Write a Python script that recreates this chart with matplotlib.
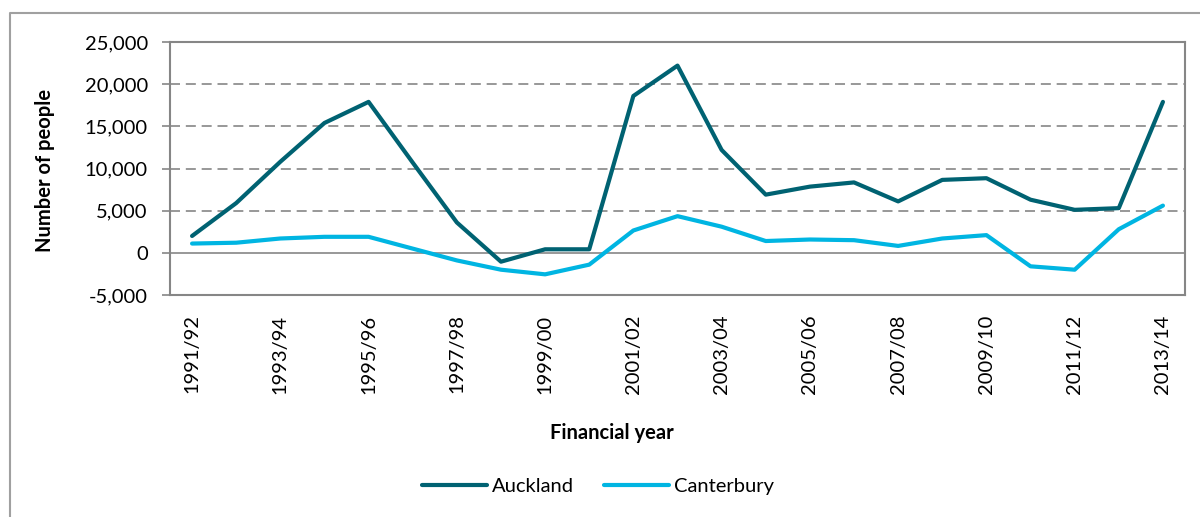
import matplotlib
matplotlib.use("Agg")
import matplotlib.pyplot as plt
from matplotlib.lines import Line2D
from matplotlib.ticker import FuncFormatter, MultipleLocator

years = ["1991/92", "1992/93", "1993/94", "1994/95", "1995/96", "1996/97",
         "1997/98", "1998/99", "1999/00", "2000/01", "2001/02", "2002/03",
         "2003/04", "2004/05", "2005/06", "2006/07", "2007/08", "2008/09",
         "2009/10", "2010/11", "2011/12", "2012/13", "2013/14"]
auckland = [2000, 5900, 10800, 15400, 17900, 10700, 3600, -1050, 420, 420,
            18600, 22200, 12200, 6900, 7850, 8350, 6100, 8650, 8850, 6300,
            5100, 5300, 17900]
canterbury = [1100, 1200, 1700, 1900, 1900, 500, -900, -2000, -2550, -1400,
              2650, 4350, 3100, 1400, 1580, 1500, 820, 1700, 2100, -1600,
              -2000, 2800, 5600]

plt.rcParams['font.family'] = ['Lato', 'DejaVu Sans']
grey = '#868686'

fig = plt.figure(figsize=(12, 5.17), dpi=100)
ax = fig.add_axes([170/1200, 1 - 295/517, 1015/1200, 253/517])

x = list(range(len(years)))
ax.plot(x, auckland, color='#006272', lw=3, label='Auckland', solid_capstyle='round')
ax.plot(x, canterbury, color='#00b5e2', lw=3, label='Canterbury', solid_capstyle='round')

ax.set_xlim(-0.5, len(years) - 0.5)
ax.set_ylim(-5000, 25000)
ax.yaxis.set_major_locator(MultipleLocator(5000))
ax.yaxis.set_major_formatter(FuncFormatter(lambda v, p: f"{int(v):,}"))
for v in range(-0, 25000, 5000):
    if v == 0:
        ax.axhline(v, color=grey, lw=1.2, zorder=0)
    else:
        ax.axhline(v, color=grey, lw=1.2, dashes=(6, 3.5), zorder=0)

ax.set_xticks(x[::2])
ax.set_xticklabels(years[::2], rotation=90)
ax.tick_params(axis='x', length=0, pad=14, labelsize=14.5)
ax.tick_params(axis='y', length=6, color=grey, width=1.2, pad=10, labelsize=14.5)
for s in ax.spines.values():
    s.set_color(grey)
    s.set_linewidth(1.5)

fig.text(45/1200, 1 - 170/517, "Number of people", rotation=90, ha='center',
         va='center', fontsize=14.5, fontweight='bold')
fig.text(612/1200, 1 - 433/517, "Financial year", ha='center', va='center',
         fontsize=14.5, fontweight='bold')
fig.legend(loc='center', bbox_to_anchor=(598/1200, 1 - 486/517), ncol=2,
           frameon=False, fontsize=14.5, handlelength=3.2, handletextpad=0.25,
           columnspacing=1.5)

fig.add_artist(Line2D([10/1200, 10/1200, 1], [0, 1 - 13/517, 1 - 13/517],
                      color='#a0a0a0', lw=1.5, transform=fig.transFigure))

fig.savefig("out.png", dpi=100)
